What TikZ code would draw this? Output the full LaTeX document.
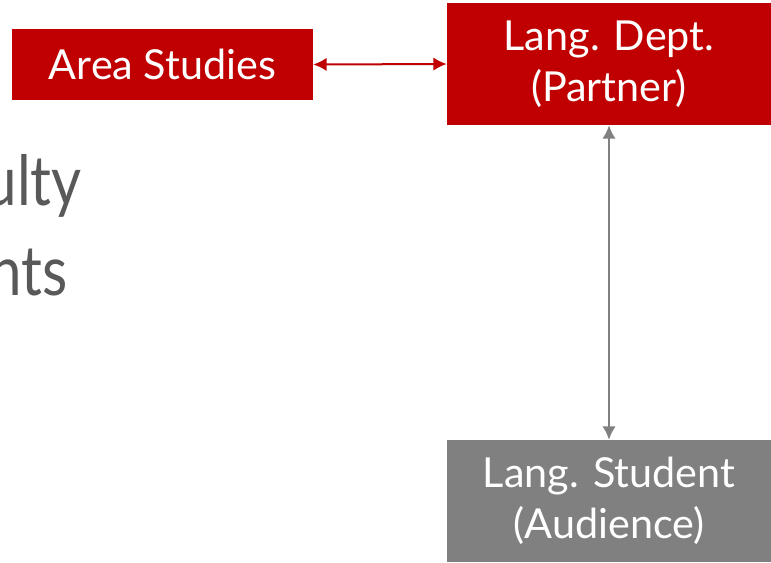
\documentclass[tikz,border=0pt]{standalone}
\usepackage{fontspec}
\usepackage{graphicx}
\setmainfont{Lato}
\usetikzlibrary{arrows.meta}
\definecolor{darkred}{HTML}{C00000}
\definecolor{midgray}{HTML}{808080}
\definecolor{textgray}{HTML}{595959}

\begin{document}
\begin{tikzpicture}[x=0.75pt, y=-0.75pt,
	box/.style={rectangle, inner sep=0pt, text=white, align=center,
	font=\fontsize{31}{38}\selectfont},
	redbox/.style={box, fill=darkred},
	graybox/.style={box, fill=midgray},
	link/.style={{Latex[length=10pt,width=10pt]}-{Latex[length=10pt,width=10pt]}, line width=1.5pt},
	bigtext/.style={text=textgray, anchor=base east, inner sep=0pt,
	font=\fontsize{52}{60}\selectfont}]

\clip (0,0) rectangle (771,562);
\fill[white] (0,0) rectangle (771,562);

% background words, cut by the left edge
\node[bigtext] (faculty) at (82,205) {\scalebox{0.84}[1]{ulty}};
\node[bigtext] (students) at (68,295) {\scalebox{0.84}[1]{nts}};

\node[redbox, minimum width=225.75pt, minimum height=53.25pt] (area) at (162.5,64.5) {Area Studies};
\node[redbox, minimum width=243pt, minimum height=91.5pt] (dept) at (609,64) {Lang. Dept.\\(Partner)};
\node[graybox, minimum width=243pt, minimum height=91.5pt] (student) at (609,501) {Lang. Student\\(Audience)};

\draw[link, darkred] (area.east) -- (dept.west);
\draw[link, midgray] (dept.south) -- (student.north);
\end{tikzpicture}
\end{document}
